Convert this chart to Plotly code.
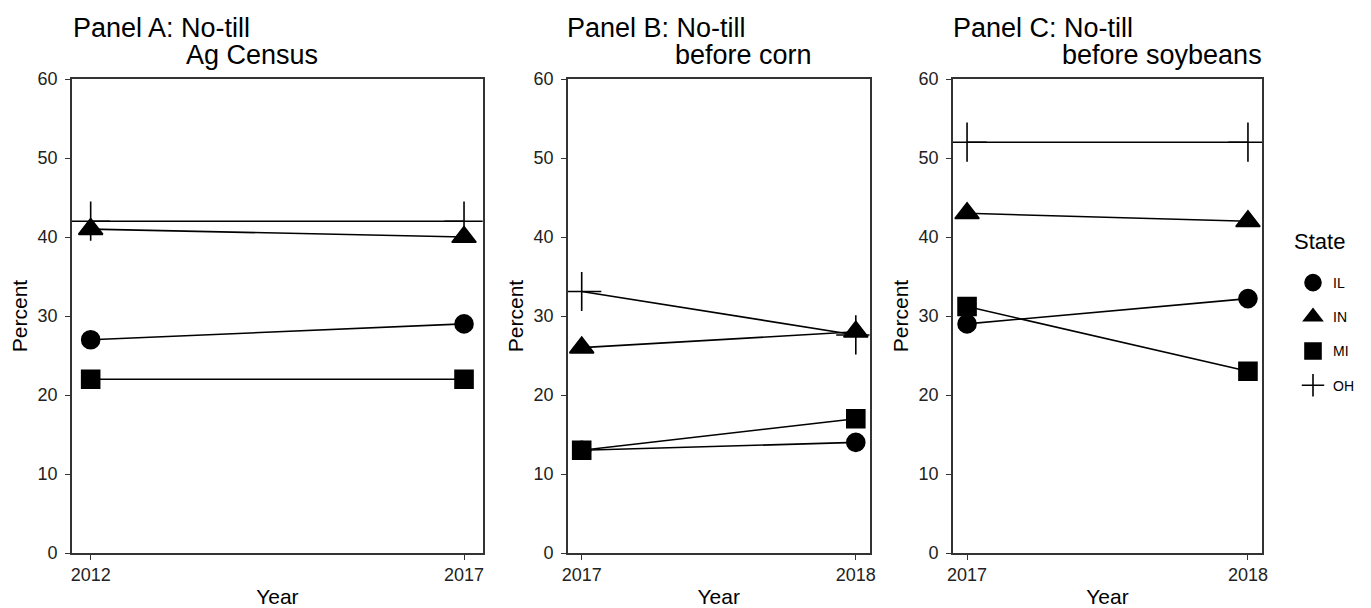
import plotly.graph_objects as go

# ---- data ----
states = ["IL", "IN", "MI", "OH"]
years_a = [2012, 2017]
years_b = [2017, 2018]
years_c = [2017, 2018]
panel_a = {"IL": [27, 29], "IN": [41, 40], "MI": [22, 22], "OH": [42, 42]}
panel_b = {"IL": [13, 14], "IN": [26, 28], "MI": [13, 17], "OH": [33.1, 27.6]}
panel_c = {"IL": [29, 32.2], "IN": [43, 42], "MI": [31.2, 23], "OH": [52, 52]}
y_ticks = [0, 10, 20, 30, 40, 50, 60]
title_line1 = ["Panel A: No-till", "Panel B: No-till", "Panel C: No-till"]
title_line2 = ["Ag Census", "before corn", "before soybeans"]
legend_title = "State"

# page has an 8px body margin -> draw on a slightly smaller canvas, positions given in window pixels
OFF = 8
W, H = 1371 - OFF, 608 - OFF
FONT = "Arial, Liberation Sans, sans-serif"
symbols = {"IL": "circle", "IN": "triangle-up", "MI": "square", "OH": "cross-thin-open"}
sizes = {"IL": 18, "IN": 21, "MI": 18, "OH": 28}

ML, MR, MT, MB = 72 - OFF, 0, 79 - OFF, H - (553 - OFF)
PW, PH = W - ML - MR, H - MT - MB
# panel pixel boxes (left, right), window pixels
px_x = [(72, 482.7), (568, 869.5), (953, 1262)]
title1_x = [70.5, 565, 951]
title2_x = [184, 673, 1060]


def fx(px):
    return (px - OFF - ML) / PW


def fy(py):
    return 1 - (py - OFF - MT) / PH


fig = go.Figure()
panels = [(years_a, panel_a), (years_b, panel_b), (years_c, panel_c)]
# lines first
for i, (yrs, vals) in enumerate(panels):
    xa = "x" if i == 0 else f"x{i+1}"
    ya = "y" if i == 0 else f"y{i+1}"
    for s in states:
        fig.add_trace(go.Scatter(
            x=yrs, y=vals[s], mode="lines", name=s, xaxis=xa, yaxis=ya,
            showlegend=False, line=dict(color="black", width=1.6), hoverinfo="skip"))
# then points
for i, (yrs, vals) in enumerate(panels):
    xa = "x" if i == 0 else f"x{i+1}"
    ya = "y" if i == 0 else f"y{i+1}"
    for s in states:
        fig.add_trace(go.Scatter(
            x=yrs, y=vals[s], mode="markers", name=s,
            xaxis=xa, yaxis=ya, showlegend=(i == 0), legendgroup=s,
            marker=dict(symbol=symbols[s], size=sizes[s], color="black",
                        line=dict(color="black", width=1.6)),
        ))

layout = dict(
    width=W, height=H, margin=dict(l=ML, r=MR, t=MT, b=MB),
    paper_bgcolor="white", plot_bgcolor="white",
    font=dict(family=FONT, color="black"),
    showlegend=True,
    legend=dict(x=fx(1293), y=fy(267), xanchor="left", yanchor="top",
                font=dict(size=14, family=FONT, color="black"), tracegroupgap=13,
                bgcolor="rgba(0,0,0,0)"),
)
annotations = []
for i, (yrs, vals) in enumerate(panels):
    sfx = "" if i == 0 else str(i + 1)
    span = yrs[1] - yrs[0]
    l, r = px_x[i]
    layout["xaxis" + sfx] = dict(
        domain=[max(0, fx(l)), fx(r)], range=[yrs[0] - 0.05 * span, yrs[1] + 0.05 * span],
        tickvals=yrs, ticktext=[str(v) for v in yrs], ticks="outside", ticklen=5,
        tickcolor="#333", tickwidth=1.2, showgrid=False, zeroline=False,
        showline=True, mirror=True, linecolor="#333", linewidth=1.6,
        tickfont=dict(size=18, color="#222"), anchor="y" + sfx, automargin=False,
        title=dict(text="Year", font=dict(size=21), standoff=6),
    )
    layout["yaxis" + sfx] = dict(
        domain=[0, 1], range=[0, 60],
        tickvals=y_ticks, ticks="outside", ticklen=5, tickcolor="#333", tickwidth=1.2,
        showgrid=False, zeroline=False, showline=True, mirror=True,
        linecolor="#333", linewidth=1.6, tickfont=dict(size=18, color="#222"),
        ticklabelstandoff=4,
        anchor="x" + sfx, automargin=False,
        title=dict(text="Percent", font=dict(size=21), standoff=4),
    )
    annotations.append(dict(text=title_line1[i], x=fx(title1_x[i]), y=fy(28),
                            xref="paper", yref="paper", xanchor="left", yanchor="middle",
                            showarrow=False, font=dict(size=27, family=FONT)))
    annotations.append(dict(text=title_line2[i], x=fx(title2_x[i]), y=fy(55),
                            xref="paper", yref="paper", xanchor="left", yanchor="middle",
                            showarrow=False, font=dict(size=27, family=FONT)))
annotations.append(dict(text=legend_title, x=fx(1292), y=fy(241), xref="paper", yref="paper",
                        xanchor="left", yanchor="middle", showarrow=False,
                        font=dict(size=22, family=FONT)))
layout["annotations"] = annotations
fig.update_layout(**layout)
fig.write_html("out.html")
